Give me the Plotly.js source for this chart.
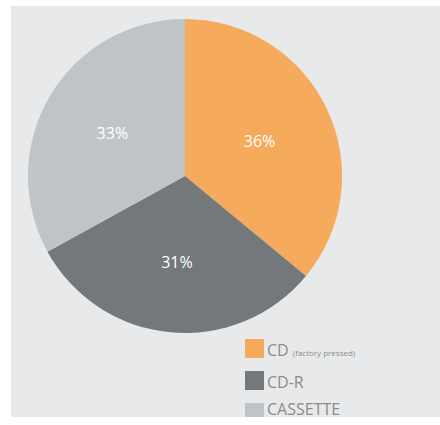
<!DOCTYPE html>
<html><head><meta charset="utf-8">
<script src="https://cdn.plot.ly/plotly-3.0.1.min.js"></script>
<style>
html,body{margin:0;padding:0;background:#ffffff;width:440px;height:425px;overflow:hidden;}
#chart{position:absolute;left:0;top:0;width:440px;height:425px;}
</style></head>
<body><div id="chart"></div>
<script>
const labels = ["CD", "CD-R", "CASSETTE"];
const legendText = ["CD <span style='font-size:8px'>(factory pressed)</span>", "CD-R", "CASSETTE"];
const values = [36, 31, 33];
const colors = ["#f5aa5c", "#75787b", "#c1c4c7"];

const W = 440, H = 425;
const px = (x) => x / W, py = (y) => 1 - y / H;
const shapes = [{type: "rect", xref: "paper", yref: "paper", layer: "below",
  x0: px(11), x1: px(440), y0: py(417), y1: py(6), fillcolor: "#e8e9ea", line: {width: 0}}];
const annotations = [];
const legX = 245, legY0 = 339, legStep = 32, sq = 19;
labels.forEach((l, i) => {
  const y = legY0 + i * legStep;
  const yb = Math.min(y + sq, 417);
  shapes.push({type: "rect", xref: "paper", yref: "paper",
    x0: px(legX), x1: px(legX + sq), y0: py(yb), y1: py(y),
    fillcolor: colors[i], line: {width: 0}});
  annotations.push({xref: "paper", yref: "paper", x: px(legX + sq + 1), y: py(Math.min(y + sq / 2 + 1, 409)),
    xanchor: "left", yanchor: "middle", showarrow: false, text: legendText[i],
    font: {family: "Open Sans", size: 16, color: "#8a8c8e"}});
});

const data = [{
  type: "pie", labels: labels, values: values, sort: false,
  direction: "clockwise", rotation: 0,
  marker: {colors: colors, line: {width: 0}},
  texttemplate: "%{value}%", textposition: "inside", insidetextorientation: "horizontal",
  textfont: {family: "Open Sans", size: 16, color: "#ffffff"},
  hoverinfo: "none",
  domain: {x: [px(28), px(342)], y: [py(333), py(19)]}
}];
const layout = {
  width: W, height: H, margin: {l: 0, r: 0, t: 0, b: 0},
  paper_bgcolor: "#ffffff", showlegend: false,
  shapes: shapes, annotations: annotations
};
Plotly.newPlot("chart", data, layout, {displayModeBar: false, staticPlot: true});
</script></body></html>
